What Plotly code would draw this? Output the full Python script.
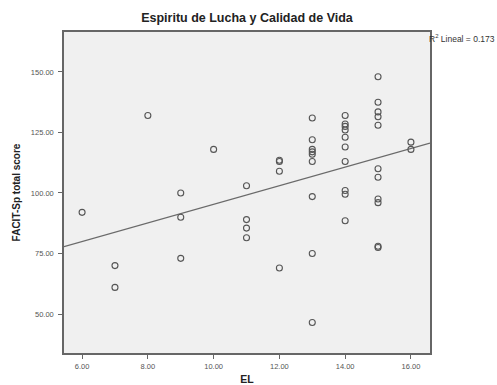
import numpy as np
import plotly.graph_objects as go

# Data (EL score vs FACIT-Sp total score)
el = [6,
      7, 7,
      8,
      9, 9, 9,
      10,
      11, 11, 11, 11,
      12, 12, 12, 12,
      13, 13, 13, 13, 13, 13, 13, 13, 13,
      14, 14, 14, 14, 14, 14, 14, 14, 14, 14,
      15, 15, 15, 15, 15, 15, 15, 15, 15, 15, 15,
      16, 16]
facit = [92,
         70, 61,
         132,
         100, 90, 73,
         118,
         103, 89, 85.5, 81.5,
         113.5, 113, 109, 69,
         131, 122, 118, 117, 116, 113, 98.5, 75, 46.5,
         132, 128.5, 127.5, 126, 123, 119, 113, 101, 99.5, 88.5,
         148, 137.5, 133.5, 131.5, 128, 110, 106.5, 97.5, 96, 78, 77.5,
         121, 118]

x_ticks = [6, 8, 10, 12, 14, 16]
x_tick_labels = ["6.00", "8.00", "10.00", "12.00", "14.00", "16.00"]
y_ticks = [50, 75, 100, 125, 150]
y_tick_labels = ["50.00", "75.00", "100.00", "125.00", "150.00"]
x_range = [5.45, 16.58]
y_range = [33.9, 166.5]

title_text = "Espiritu de Lucha y Calidad de Vida"
x_title = "EL"
y_title = "FACIT-Sp total score"
r2_text = "R<sup>2</sup> Lineal = 0.173"

# Least-squares fit line computed from the data
slope, intercept = np.polyfit(np.array(el, float), np.array(facit, float), 1)
fit_x = np.array(x_range)
fit_y = slope * fit_x + intercept

font_family = "Liberation Sans, Arial, sans-serif"

fig = go.Figure()
fig.add_trace(go.Scatter(
    x=fit_x, y=fit_y, mode="lines",
    line=dict(color="#6a6a6a", width=1.3),
    hoverinfo="skip", showlegend=False,
))
fig.add_trace(go.Scatter(
    x=el, y=facit, mode="markers",
    marker=dict(symbol="circle-open", size=6, color="#555555", line=dict(width=1.1)),
    showlegend=False,
))

fig.update_layout(
    width=497, height=385,
    margin=dict(l=64, r=67, t=32, b=32, autoexpand=False),
    paper_bgcolor="white",
    plot_bgcolor="#f0f0f0",
    font=dict(family=font_family, color="#333333", size=8),
    title=dict(text="<b>" + title_text + "</b>", x=0.5, xref="paper", xanchor="center",
               y=1 - 18 / 385, yanchor="middle",
               font=dict(size=12.5, color="#222222", family=font_family)),
    annotations=[dict(
        text=r2_text, xref="paper", yref="paper", x=1.0, y=1 - 6 / 321,
        xanchor="left", yanchor="middle", showarrow=False,
        font=dict(size=8.5, color="#333333", family=font_family), xshift=-3,
    )],
)
axis_common = dict(
    showgrid=False, zeroline=False, automargin=False,
    showline=True, linecolor="#666666", linewidth=1.5, mirror=True,
    ticks="outside", ticklen=4, tickcolor="#666666", tickwidth=1,
    tickfont=dict(size=7.5, color="#555555", family=font_family),
)
fig.update_xaxes(range=x_range, tickvals=x_ticks, ticktext=x_tick_labels,
                 ticklabelstandoff=1,
                 title=dict(text="<b>" + x_title + "</b>", standoff=14,
                            font=dict(size=10.5, color="#222222", family=font_family)),
                 **axis_common)
fig.update_yaxes(range=y_range, tickvals=y_ticks, ticktext=y_tick_labels,
                 ticklabelstandoff=3,
                 title=dict(text="<b>" + y_title + "</b>", standoff=8,
                            font=dict(size=10, color="#222222", family=font_family)),
                 **axis_common)

fig.write_html("out.html")
